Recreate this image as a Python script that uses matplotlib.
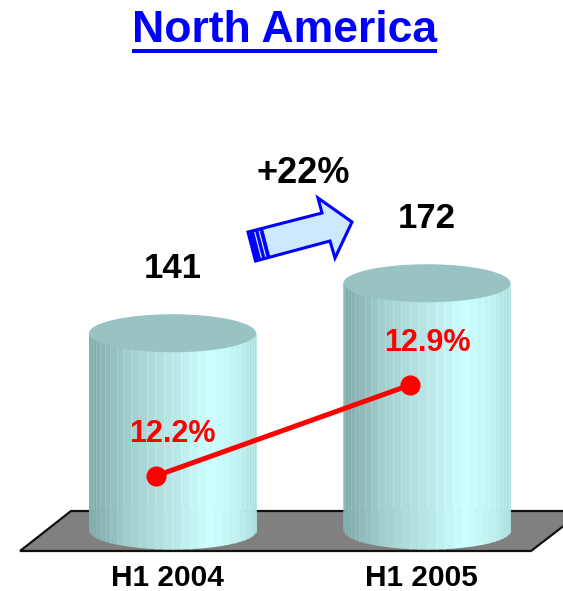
import numpy as np
import matplotlib
matplotlib.use("Agg")
import matplotlib.pyplot as plt
from matplotlib.patches import Ellipse, Polygon

# ---- data ----
title_text = "North America"
categories = ["H1 2004", "H1 2005"]
sales = [141, 172]
margins = [12.2, 12.9]
growth_label = "+22%"

W, H, DPI = 563, 591, 100
FONT = ["Liberation Sans", "DejaVu Sans"]

fig = plt.figure(figsize=(W / DPI, H / DPI), dpi=DPI)
fig.patch.set_facecolor("white")

# pixel-coordinate helper axes (decorations: floor, arrow, title)
ax_floor = fig.add_axes([0, 0, 1, 1], zorder=0)
ax_floor.set_xlim(0, W); ax_floor.set_ylim(H, 0); ax_floor.axis("off")

# data axes (value scale)
BASE = 19.0
ax = fig.add_axes([0, 0, 1, 1], zorder=1)
ax.set_xlim(-0.6778, 1.5344)
ax.set_ylim(-18.8, 347.6)
ax.axis("off"); ax.patch.set_alpha(0)

ax2 = fig.add_axes([0, 0, 1, 1], zorder=2, sharex=ax)
ax2.set_ylim(11.315, 15.862)
ax2.axis("off"); ax2.patch.set_alpha(0)

ax_deco = fig.add_axes([0, 0, 1, 1], zorder=3)
ax_deco.set_xlim(0, W); ax_deco.set_ylim(H, 0); ax_deco.axis("off"); ax_deco.patch.set_alpha(0)

# ---- floor ----
floor = Polygon([(20, 551), (531, 551), (583, 511), (71, 511)], closed=True,
                facecolor="#808080", edgecolor="#111111", linewidth=1.6, joinstyle="miter")
ax_floor.add_patch(floor)

# ---- cylinders ----
hw = 0.3281      # half width (category units)
eh = 11.78       # ellipse half height (value units)
stops_t = [0.0, 0.25, 0.5, 0.72, 0.88, 1.0]
stops_c = np.array([[128, 170, 170], [165, 208, 208], [185, 230, 230],
                    [204, 255, 255], [192, 242, 242], [172, 222, 222]]) / 255.0

def shade(t):
    return [np.interp(t, stops_t, stops_c[:, k]) for k in range(3)]

n_fac = 30
thetas = np.linspace(0, np.pi, n_fac + 1)
for i, v in enumerate(sales):
    cx = i
    xs_b = cx - hw * np.cos(thetas)
    for j in range(n_fac):
        xa, xb = xs_b[j], xs_b[j + 1]
        xx = np.linspace(xa, xb, 6)
        yb = BASE - eh * np.sqrt(np.clip(1 - ((xx - cx) / hw) ** 2, 0, 1))
        t = ((xa + xb) / 2 - (cx - hw)) / (2 * hw)
        c = shade(t)
        ax.fill_between(xx, yb, v, color=c, linewidth=0, zorder=2)
        edge = [min(1, cc + 0.04) for cc in c]
        ax.plot([xa, xa], [yb[0], v], color=edge, linewidth=0.5, zorder=2.1)
    top = Ellipse((cx, v), 2 * hw, 2 * eh, facecolor="#99c2c2", edgecolor="none", zorder=3)
    ax.add_patch(top)
    ax.text(cx, v + 40, str(v), ha="center", va="center", fontsize=25,
            fontweight="bold", family=FONT, color="black", zorder=5)
    ax.text(cx - 0.02, -10.5, categories[i], ha="center", va="center", fontsize=21.5,
            fontweight="bold", family=FONT, color="black", zorder=5)

# ---- margin line ----
xm = [i - 0.066 for i in range(len(margins))]
ax2.plot(xm, margins, color="#ff0000", linewidth=3.6, marker="o", markersize=13.5,
         solid_capstyle="round", zorder=6)
for i, m in enumerate(margins):
    ax2.text(i, m + 0.32, f"{m:.1f}%", ha="center", va="center", fontsize=22,
             fontweight="bold", family=FONT, color="#ff0000", zorder=7)

# ---- growth arrow ----
ax.text(0.513, max(sales) + 68, growth_label, ha="center", va="center", fontsize=26,
        fontweight="bold", family=FONT, color="black", zorder=5)

tt = np.array([248.0, 232.0]); tb = np.array([255.5, 261.0])
arrow_pts = [tuple(tt), (322, 213), (318, 198), (352, 222), (335, 258), (330, 241), tuple(tb)]
ax_deco.add_patch(Polygon(arrow_pts, closed=True, facecolor="#cce9ff", edgecolor="#0000ff",
                          linewidth=2.2, joinstyle="miter"))
u = np.array([74.0, -19.0]); u /= np.linalg.norm(u)
for a, b in [(0, 5.5), (7.5, 10), (12, 15)]:
    ax_deco.add_patch(Polygon([tuple(tt + u * a), tuple(tt + u * b), tuple(tb + u * b), tuple(tb + u * a)],
                              closed=True, facecolor="#0000ff", edgecolor="#0000ff", linewidth=0.5))

# ---- title with underline ----
tx = ax_deco.text(284.5, 42, title_text, ha="center", va="baseline", fontsize=32,
                  fontweight="bold", family=FONT, color="#0000ff")
fig.canvas.draw()
bb = tx.get_window_extent()
inv = ax_deco.transData.inverted()
(x0, _), (x1, _) = inv.transform([(bb.x0, bb.y0), (bb.x1, bb.y0)])
ax_deco.add_patch(Polygon([(x0, 49), (x1, 49), (x1, 53), (x0, 53)], closed=True,
                          facecolor="#0000ff", edgecolor="none"))

fig.savefig("out.png", dpi=DPI, facecolor="white")
